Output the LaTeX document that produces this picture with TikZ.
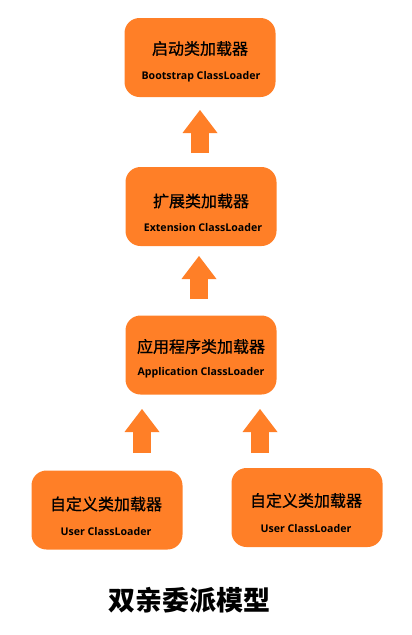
\documentclass[tikz,border=0pt]{standalone}
\usepackage{fontspec}
\newfontfamily\cjk{Noto Sans CJK SC}
\newfontfamily\cjkm[FakeBold=0.8]{Noto Sans CJK SC}
\newfontfamily\enf{Open Sans}
\usetikzlibrary{arrows.meta}
\definecolor{boxorange}{RGB}{255,127,39}
\tikzset{
  loader/.style={fill=boxorange, rounded corners=15pt, minimum width=151pt, minimum height=79pt, inner sep=0pt},
  zh/.style={font=\cjkm\fontsize{16}{18}\selectfont, text=black, inner sep=0pt},
  en/.style={font=\enf\bfseries\fontsize{10.6}{12}\selectfont, text=black, inner sep=0pt},
  blockarrow/.style={draw=boxorange, line width=18pt,
     -{Triangle[width=35pt,length=23pt,line width=0pt]}},
}
\begin{document}
\begin{tikzpicture}[x=1pt,y=-1pt]
\useasboundingbox (0,0) rectangle (412,635);
% boxes
\node[loader] (b1) at (200,57.5) {};
\node[loader] (b2) at (201,206.5) {};
\node[loader] (b3) at (201,355) {};
\node[loader] (b4) at (107,510) {};
\node[loader] (b5) at (307,507.5) {};
% texts
\node[zh] (t1) at (200,48.5) {启动类加载器};
\node[en] (e1) at (201,77) {Bootstrap ClassLoader};
\node[zh] (t2) at (201,201) {扩展类加载器};
\node[en] (e2) at (203,228) {Extension ClassLoader};
\node[zh] (t3) at (201,346.5) {应用程序类加载器};
\node[en] (e3) at (201,373) {Application ClassLoader};
\node[zh] (t4) at (106,504) {自定义类加载器};
\node[en] (e4) at (106,532) {User ClassLoader};
\node[zh] (t5) at (306,500.5) {自定义类加载器};
\node[en] (e5) at (306,528.5) {User ClassLoader};
% arrows
\coordinate (a1s) at (200,153);
\coordinate (a1e) at (200,110);
\coordinate (a2s) at (199,299);
\coordinate (a2e) at (199,256);
\coordinate (a3s) at (142,453);
\coordinate (a3e) at (142,409);
\coordinate (a4s) at (260,453);
\coordinate (a4e) at (260,409);
\draw[blockarrow] (a1s) -- (a1e);
\draw[blockarrow] (a2s) -- (a2e);
\draw[blockarrow] (a3s) -- (a3e);
\draw[blockarrow] (a4s) -- (a4e);
% title
\node[font=\cjk\bfseries\fontsize{27}{30}\selectfont, inner sep=0pt] (title) at (189,600) {双亲委派模型};
\end{tikzpicture}
\end{document}
